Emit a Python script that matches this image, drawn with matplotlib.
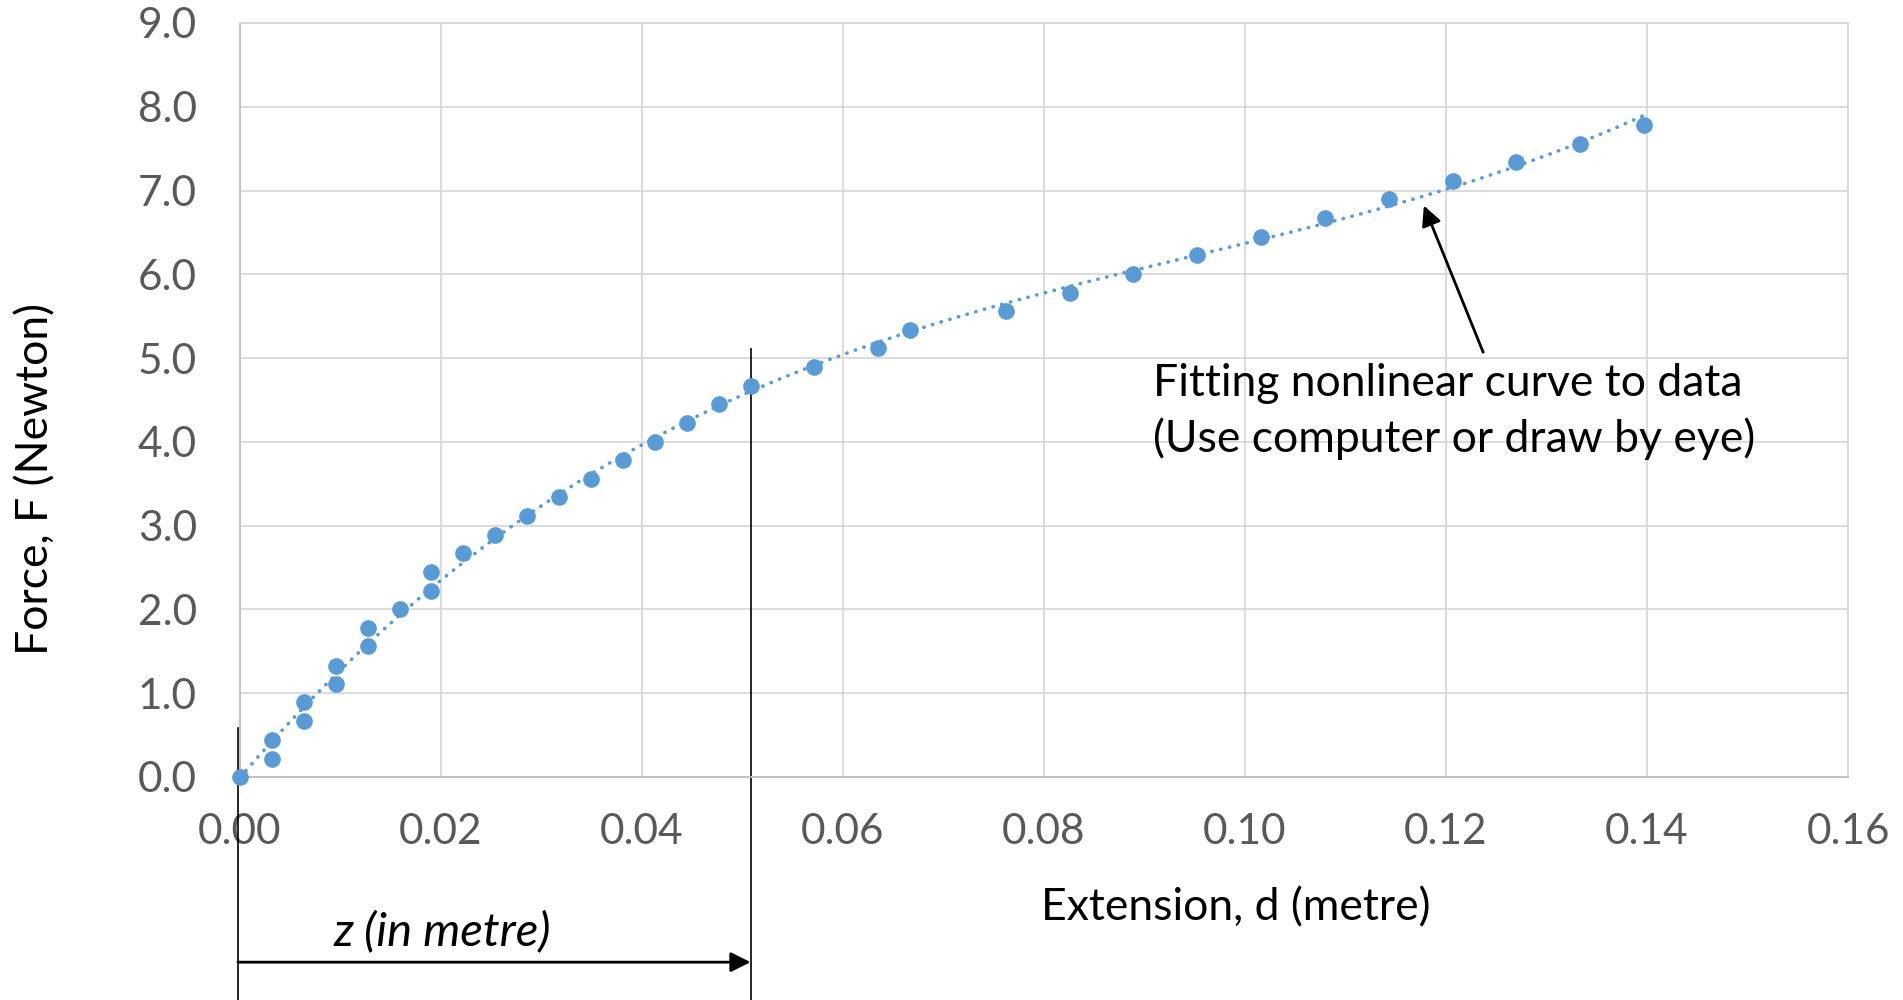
import numpy as np
import matplotlib
matplotlib.use("Agg")
import matplotlib.pyplot as plt

# extension (m) and force (N)
ext = [0.0, 0.00318, 0.00318, 0.00635, 0.00635, 0.00953, 0.00953,
       0.0127, 0.0127, 0.01588, 0.01905, 0.01905, 0.02223, 0.0254,
       0.02858, 0.03175, 0.03493, 0.0381, 0.04128, 0.04445, 0.04763,
       0.0508, 0.05715, 0.0635, 0.06668, 0.0762, 0.08255, 0.0889,
       0.09525, 0.1016, 0.10795, 0.1143, 0.12065, 0.127, 0.13335, 0.1397]
force = [0.0, 0.44, 0.22, 0.89, 0.67, 1.33, 1.11,
         1.78, 1.56, 2.0, 2.45, 2.22, 2.67, 2.89,
         3.11, 3.34, 3.56, 3.78, 4.0, 4.23, 4.45,
         4.67, 4.89, 5.12, 5.34, 5.56, 5.78, 6.0,
         6.23, 6.45, 6.67, 6.9, 7.12, 7.34, 7.56, 7.78]

xticks = [0.00, 0.02, 0.04, 0.06, 0.08, 0.10, 0.12, 0.14, 0.16]
yticks = [0.0, 1.0, 2.0, 3.0, 4.0, 5.0, 6.0, 7.0, 8.0, 9.0]

z_mark = 0.0508
note = "Fitting nonlinear curve to data\n(Use computer or draw by eye)"

blue = "#5B9BD5"
grid_col = "#D9D9D9"
tick_col = "#595959"

plt.rcParams['font.family'] = ['Lato', 'DejaVu Sans']

fig = plt.figure(figsize=(19.03, 10), dpi=100)
ax = fig.add_axes([0.1261, 0.223, 0.845, 0.754])

# polynomial trendline like the spreadsheet one
coef = np.polyfit(ext, force, 3)
xs = np.linspace(0, max(ext), 200)
ax.plot(xs, np.polyval(coef, xs), color=blue, lw=2.6,
        linestyle=(0, (0.1, 2.4)), dash_capstyle='round', zorder=2)
ax.plot(ext, force, 'o', color=blue, ms=12, mec='none', zorder=3, clip_on=False)

ax.set_xlim(0, 0.16)
ax.set_ylim(0, 9.0)
ax.set_xticks(xticks)
ax.set_yticks(yticks)
ax.set_xticklabels(['%.2f' % v for v in xticks])
ax.set_yticklabels(['%.1f' % v for v in yticks])
ax.tick_params(length=0, labelsize=30.5, labelcolor=tick_col)
ax.tick_params(axis='x', pad=26)
ax.tick_params(axis='y', pad=31)
ax.grid(True, color=grid_col, lw=1.3)
ax.set_axisbelow(True)
for s in ax.spines.values():
    s.set_color(grid_col)
    s.set_linewidth(1.3)
ax.spines['bottom'].set_color('#BFBFBF')
ax.spines['left'].set_color('#BFBFBF')

ax.text(0.619, -0.174, "Extension, d (metre)", transform=ax.transAxes,
        ha='center', va='center', fontsize=32)
ax.text(-0.127, 0.395, "Force, F (Newton)", transform=ax.transAxes,
        ha='center', va='center', rotation=90, fontsize=32)

# z marker lines and arrow
ax.plot([-0.0002, -0.0002], [0.58, -2.8], color='black', lw=1.2, clip_on=False)
ax.plot([z_mark, z_mark], [5.11, -2.8], color='black', lw=1.2, clip_on=False)
ax.annotate("", xy=(z_mark, -2.21), xytext=(-0.0002, -2.21),
            arrowprops=dict(arrowstyle='-|>', color='black', lw=2,
                            mutation_scale=30, shrinkA=0, shrinkB=0),
            annotation_clip=False)
ax.text(0.0201, -1.85, "z (in metre)", style='italic', ha='center',
        va='center', fontsize=34)

# annotation for the fitted curve
ax.annotate("", xy=(0.1178, 6.82), xytext=(0.1237, 5.07),
            arrowprops=dict(arrowstyle='-|>', color='black', lw=2,
                            mutation_scale=30, shrinkA=0, shrinkB=0))
ax.text(0.0908, 4.36, note, ha='left', va='center', fontsize=32,
        linespacing=1.4)

fig.savefig('out.png', dpi=100)
